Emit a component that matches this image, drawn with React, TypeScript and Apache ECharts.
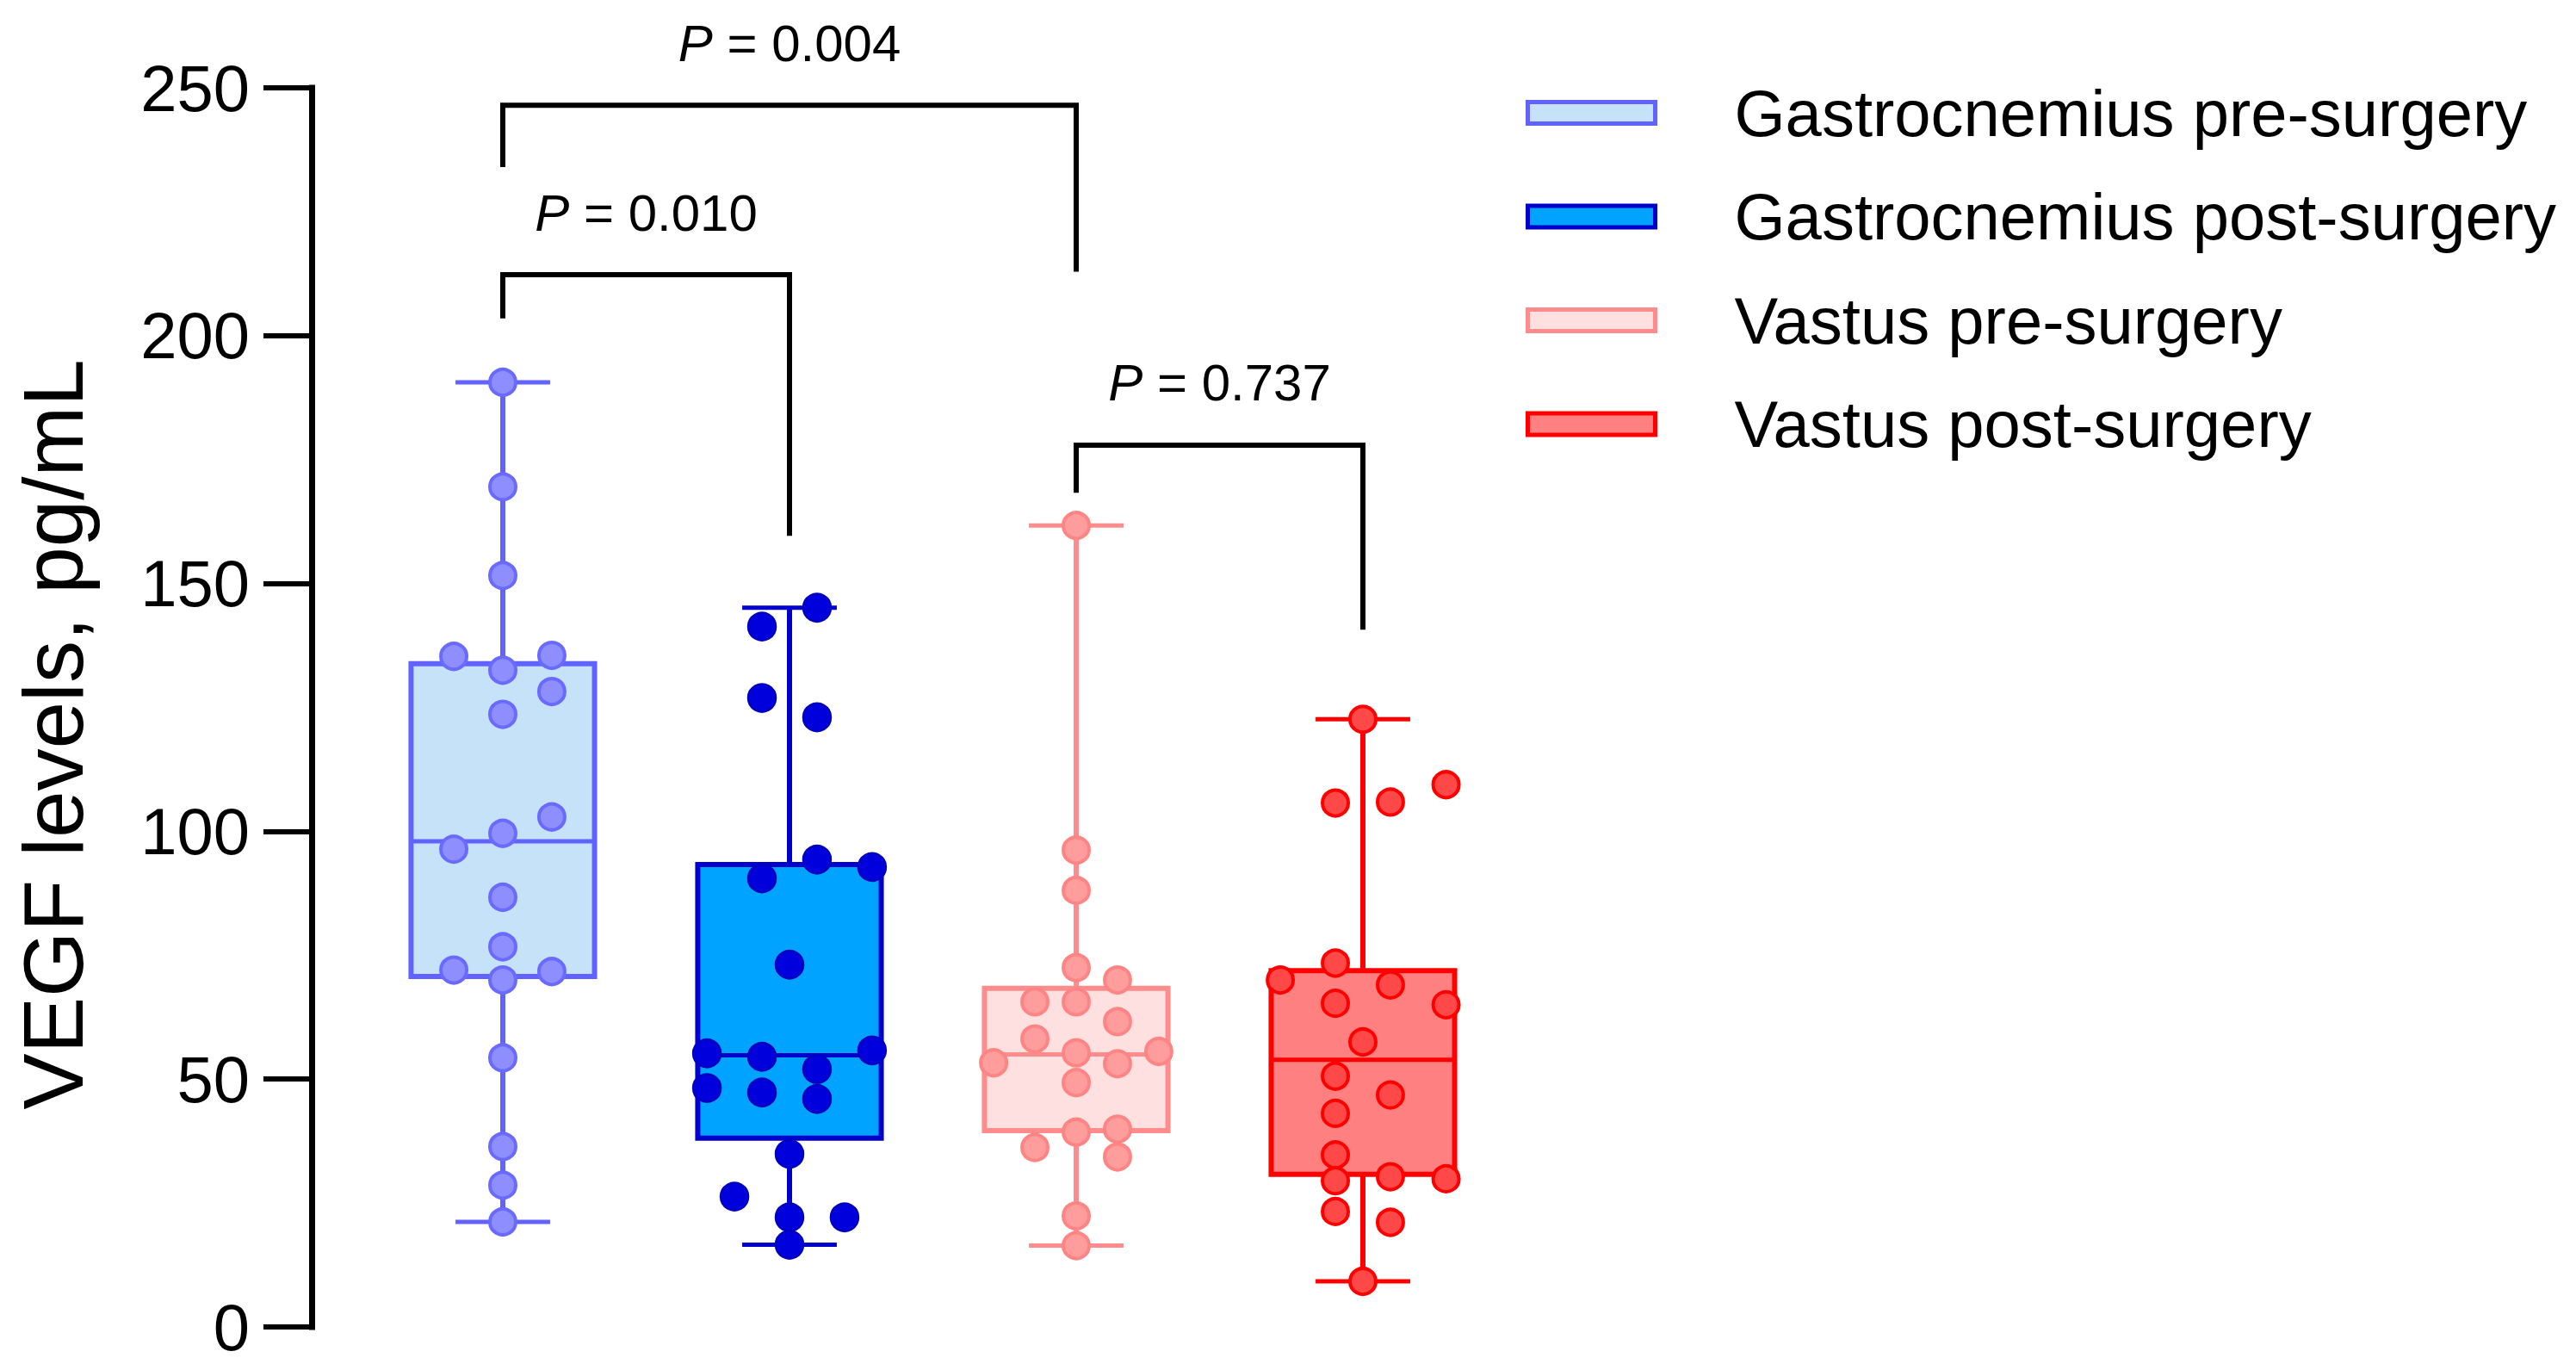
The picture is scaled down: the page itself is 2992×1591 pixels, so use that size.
import React, { useEffect, useRef } from 'react';
import * as echarts from 'echarts';

// ---------- data ----------
const categories = [
  'Gastrocnemius pre-surgery',
  'Gastrocnemius post-surgery',
  'Vastus pre-surgery',
  'Vastus post-surgery',
];

const yTicks = [0, 50, 100, 150, 200, 250];

// box statistics: [min, Q1, median, Q3, max]
const gastroPreBox = [21.2, 70.7, 98.0, 133.8, 190.6];
const gastroPostBox = [16.6, 38.1, 54.8, 93.3, 145.1];
const vastusPreBox = [16.4, 39.6, 55.0, 68.3, 161.7];
const vastusPostBox = [9.2, 30.8, 53.9, 71.9, 122.6];

// individual values (pg/mL)
const gastroPreValues = [190.6, 169.5, 151.6, 135.3, 135.5, 132.5, 128.2, 123.6, 102.9, 99.6, 96.4, 86.7, 76.7, 72.0, 71.7, 70.0, 54.3, 36.4, 28.6, 21.2];
const gastroPostValues = [145.1, 141.3, 126.9, 123.0, 94.3, 92.8, 90.5, 73.1, 55.2, 54.5, 55.8, 52.0, 48.2, 47.3, 46.0, 34.9, 26.3, 22.1, 22.1, 16.6];
const vastusPreValues = [161.7, 96.2, 88.1, 72.5, 70.0, 65.6, 65.6, 61.6, 58.1, 55.6, 55.3, 53.3, 53.1, 49.3, 39.9, 39.3, 36.2, 34.3, 22.4, 16.4];
const vastusPostValues = [122.6, 109.4, 105.9, 105.7, 73.4, 70.0, 69.0, 65.3, 65.0, 57.5, 50.6, 46.8, 43.1, 34.7, 30.3, 29.9, 29.5, 23.3, 21.1, 9.2];

// horizontal scatter of each dot (fraction of a category band)
const gastroPreJitter = [0, 0, 0, -0.171, 0.171, 0, 0.171, 0, 0.171, 0, -0.171, 0, 0, -0.171, 0.171, 0, 0, 0, 0, 0];
const gastroPostJitter = [0.096, -0.096, -0.096, 0.096, 0.096, 0.288, -0.096, 0, -0.288, -0.096, 0.288, 0.096, -0.288, -0.096, 0.096, 0, -0.192, 0, 0.192, 0];
const vastusPreJitter = [0, 0, 0, 0, 0.144, -0.144, 0, 0.144, -0.144, 0.288, 0, -0.288, 0.144, 0, 0.144, 0, -0.144, 0.144, 0, 0];
const vastusPostJitter = [0, 0.29, 0.096, -0.096, -0.096, -0.288, 0.096, -0.096, 0.29, 0, -0.096, 0.096, -0.096, -0.096, 0.096, 0.29, -0.096, -0.096, 0.096, 0];

// comparisons: [group A, group B]
const comparisons = [[0, 2], [0, 1], [2, 3]];
const pValues = ['0.004', '0.010', '0.737'];

// ---------- styling ----------
const FONT = '"Liberation Sans", Arial, Helvetica, sans-serif';
const boxes = [gastroPreBox, gastroPostBox, vastusPreBox, vastusPostBox];
const values = [gastroPreValues, gastroPostValues, vastusPreValues, vastusPostValues];
const jitters = [gastroPreJitter, gastroPostJitter, vastusPreJitter, vastusPostJitter];

const fills = ['#C5E2F8', '#00A3FF', '#FFE0E0', '#FF8080'];
const strokes = ['#6262FF', '#0000CC', '#FF8C8C', '#FF0000'];
const dotFills = ['#8E8EFF', '#0000DD', '#FF9C9C', '#FF4848'];
const dotStrokes = ['#6A6AFF', '#0000C0', '#FF8585', '#FF0000'];

// annotation geometry in axis units: [bar level, left leg end, right leg end, label level]
const bracketLevels = [
  [246.5, 234.0, 212.9, 259.0],
  [212.3, 203.5, 159.6, 224.8],
  [177.9, 168.3, 140.7, 190.5],
];

function boxRender(g: number) {
  return (params: any, api: any) => {
    const c = api.value(0);
    const pMin = api.coord([c, api.value(1)]);
    const pQ1 = api.coord([c, api.value(2)]);
    const pMed = api.coord([c, api.value(3)]);
    const pQ3 = api.coord([c, api.value(4)]);
    const pMax = api.coord([c, api.value(5)]);
    const band = api.size([1, 0])[0];
    const cx = pMin[0];
    const hb = band * 0.32;
    const hc = band * 0.165;
    const ls = { stroke: strokes[g], lineWidth: 6 };
    return {
      type: 'group',
      children: [
        { type: 'line', shape: { x1: cx, y1: pMax[1], x2: cx, y2: pQ3[1] }, style: ls },
        { type: 'line', shape: { x1: cx, y1: pQ1[1], x2: cx, y2: pMin[1] }, style: ls },
        { type: 'line', shape: { x1: cx - hc, y1: pMax[1], x2: cx + hc, y2: pMax[1] }, style: { stroke: strokes[g], lineWidth: 5 } },
        { type: 'line', shape: { x1: cx - hc, y1: pMin[1], x2: cx + hc, y2: pMin[1] }, style: { stroke: strokes[g], lineWidth: 5 } },
        {
          type: 'rect',
          shape: { x: cx - hb, y: pQ3[1], width: 2 * hb, height: pQ1[1] - pQ3[1] },
          style: { fill: fills[g], stroke: strokes[g], lineWidth: 6 },
        },
        { type: 'line', shape: { x1: cx - hb, y1: pMed[1], x2: cx + hb, y2: pMed[1] }, style: { stroke: strokes[g], lineWidth: 5 } },
      ],
    };
  };
}

function dotRender(g: number) {
  return (params: any, api: any) => {
    const p = api.coord([api.value(0), api.value(1)]);
    const band = api.size([1, 0])[0];
    const x = p[0] + api.value(2) * band;
    const solid = g === 1;
    return {
      type: 'circle',
      shape: { cx: x, cy: p[1], r: solid ? 16 : 15 },
      style: { fill: dotFills[g], stroke: dotStrokes[g], lineWidth: solid ? 2.5 : 4 },
    };
  };
}

function bracketRender(params: any, api: any) {
  const i = params.dataIndex;
  const a = api.value(0);
  const b = api.value(1);
  const top = api.value(2);
  const le = api.value(3);
  const re = api.value(4);
  const ly = api.value(5);
  const pA = api.coord([a, top]);
  const pB = api.coord([b, top]);
  const pAe = api.coord([a, le]);
  const pBe = api.coord([b, re]);
  const pL = api.coord([a, ly]);
  const pLb = api.coord([b, ly]);
  return {
    type: 'group',
    children: [
      {
        type: 'polyline',
        shape: { points: [[pAe[0], pAe[1]], [pA[0], pA[1]], [pB[0], pB[1]], [pBe[0], pBe[1]]] },
        style: { stroke: '#000', lineWidth: 6, fill: 'none', lineJoin: 'miter' },
      },
      {
        type: 'text',
        x: (pL[0] + pLb[0]) / 2,
        y: pL[1],
        style: {
          text: '{i|P} = ' + pValues[i],
          fontSize: 60,
          fontFamily: FONT,
          fill: '#000',
          align: 'center',
          verticalAlign: 'middle',
          rich: { i: { fontStyle: 'italic', fontSize: 60, fontFamily: FONT, fill: '#000' } },
        },
      },
    ],
  };
}

export default function App() {
  const ref = useRef<HTMLDivElement>(null);

  useEffect(() => {
    document.body.style.margin = '0';
    document.body.style.overflow = 'hidden';
    if (!ref.current) return;
    const chart = echarts.init(ref.current, undefined, { renderer: 'svg' });

    const series: any[] = [];
    categories.forEach((name, g) => {
      series.push({
        type: 'custom',
        name,
        silent: true,
        z: 2,
        itemStyle: { color: fills[g], borderColor: strokes[g] },
        encode: { x: 0, y: [1, 2, 3, 4, 5] },
        data: [[g, ...boxes[g]]],
        renderItem: boxRender(g),
      });
      series.push({
        type: 'custom',
        name,
        silent: true,
        z: 3,
        itemStyle: { color: fills[g], borderColor: strokes[g] },
        encode: { x: 0, y: 1 },
        data: values[g].map((v, k) => [g, v, jitters[g][k]]),
        renderItem: dotRender(g),
      });
    });
    series.push({
      type: 'custom',
      name: 'comparisons',
      silent: true,
      z: 4,
      clip: false,
      encode: { x: [0, 1], y: [2, 3, 4, 5] },
      data: comparisons.map((c, i) => [c[0], c[1], ...bracketLevels[i]]),
      renderItem: bracketRender,
    });

    chart.setOption({
      animation: false,
      backgroundColor: '#ffffff',
      grid: { left: 417.5, width: 1332, top: 102, bottom: 50, containLabel: false },
      xAxis: {
        type: 'category',
        data: categories,
        boundaryGap: true,
        show: false,
      },
      yAxis: {
        type: 'value',
        min: 0,
        max: 250,
        interval: 50,
        offset: 55.5,
        splitLine: { show: false },
        axisLine: { show: true, lineStyle: { color: '#000', width: 7, cap: 'square' } },
        axisTick: { show: true, inside: false, length: 56, lineStyle: { color: '#000', width: 6 } },
        axisLabel: {
          show: true,
          margin: 72,
          fontSize: 76,
          fontFamily: FONT,
          color: '#000',
          formatter: (v: number) => (yTicks.indexOf(v) >= 0 ? String(v) : ''),
        },
      },
      legend: {
        orient: 'vertical',
        left: 1767,
        top: 86,
        itemWidth: 148,
        itemHeight: 25,
        itemGap: 40.5,
        icon: 'rect',
        selectedMode: false,
        textStyle: { fontSize: 76, fontFamily: FONT, color: '#000', lineHeight: 80, padding: [0, 0, 0, 87] },
        data: categories.map((name, g) => ({
          name,
          icon: 'rect',
          itemStyle: { color: fills[g], borderColor: strokes[g], borderWidth: 5 },
        })),
      },
      graphic: [
        {
          type: 'text',
          x: 62,
          y: 853,
          rotation: Math.PI / 2,
          style: {
            text: 'VEGF levels, pg/mL',
            fontSize: 98,
            fontFamily: FONT,
            fill: '#000',
            align: 'center',
            verticalAlign: 'middle',
          },
        },
      ],
      series,
    });

    return () => {
      chart.dispose();
    };
  }, []);

  return <div ref={ref} style={{ width: 2992, height: 1591 }} />;
}
